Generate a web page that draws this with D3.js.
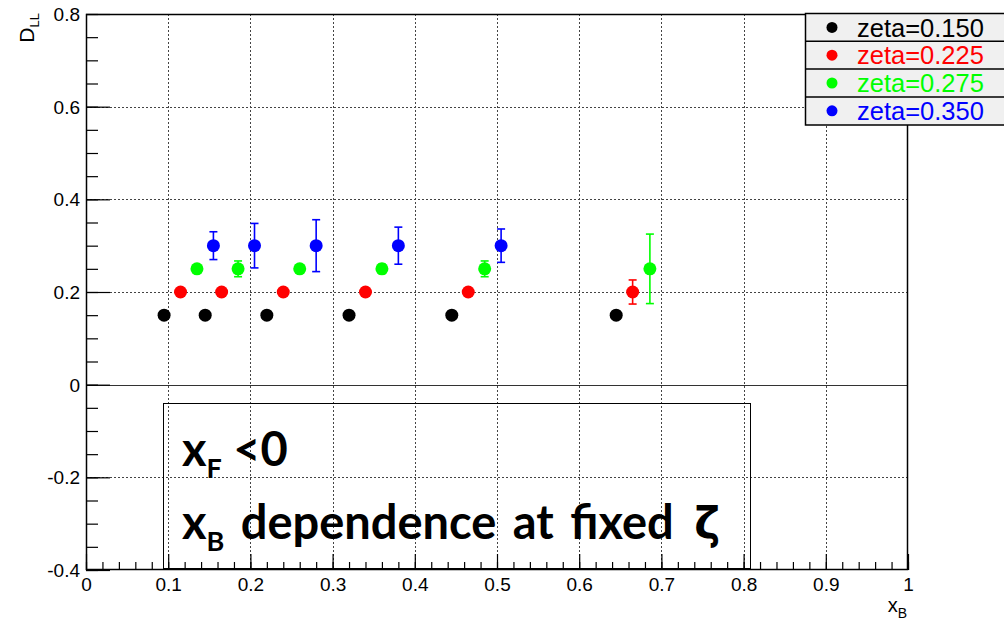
<!DOCTYPE html>
<html>
<head>
<meta charset="utf-8">
<script src="https://cdn.jsdelivr.net/npm/d3@7"></script>
<style>
body{margin:0;background:#fff;}
svg{display:block;font-family:"Liberation Sans",Arial,sans-serif;}
</style>
</head>
<body>
<svg id="c" width="1004" height="620"></svg>
<script>
// ---- data ----
const seriesNames = ["zeta=0.150","zeta=0.225","zeta=0.275","zeta=0.350"];
const seriesColors = ["#000000","#ff0000","#00ff00","#0000ff"];
const xB_150 = [0.095,0.145,0.220,0.320,0.445,0.645];
const d_150  = [0.15,0.15,0.15,0.15,0.15,0.15];
const e_150  = [0.005,0.005,0.005,0.005,0.005,0.008];
const xB_225 = [0.115,0.165,0.240,0.340,0.465,0.665];
const d_225  = [0.20,0.20,0.20,0.20,0.20,0.20];
const e_225  = [0.006,0.006,0.006,0.008,0.008,0.026];
const xB_275 = [0.135,0.185,0.260,0.360,0.485,0.686];
const d_275  = [0.25,0.25,0.25,0.25,0.25,0.25];
const e_275  = [0.008,0.017,0.008,0.010,0.017,0.075];
const xB_350 = [0.155,0.205,0.280,0.380,0.505];
const d_350  = [0.30,0.30,0.30,0.30,0.30];
const e_350  = [0.030,0.048,0.056,0.040,0.036];
const xTickValues = [0,0.1,0.2,0.3,0.4,0.5,0.6,0.7,0.8,0.9,1];
const xTickLabels = ["0","0.1","0.2","0.3","0.4","0.5","0.6","0.7","0.8","0.9","1"];
const yTickValues = [-0.4,-0.2,0,0.2,0.4,0.6,0.8];
const yTickLabels = ["-0.4","-0.2","0","0.2","0.4","0.6","0.8"];

const series = [
  {x:xB_150,y:d_150,e:e_150},
  {x:xB_225,y:d_225,e:e_225},
  {x:xB_275,y:d_275,e:e_275},
  {x:xB_350,y:d_350,e:e_350}
].map((s,i)=>({name:seriesNames[i],color:seriesColors[i],pts:s.x.map((v,j)=>({x:v,y:s.y[j],e:s.e[j]}))}));

// ---- layout ----
const L=86,R=908,T=14,B=570;
const svg=d3.select("#c");
const x=d3.scaleLinear().domain([0,1]).range([L,R]);
const y=d3.scaleLinear().domain([-0.4,0.8]).range([B,T]);

// grid
const grid=svg.append("g").attr("stroke","#444").attr("stroke-width",1).attr("stroke-dasharray","2,2");
grid.selectAll(".gx").data(xTickValues.filter(v=>v>0&&v<1)).join("line")
  .attr("x1",d=>Math.round(x(d))+0.5).attr("x2",d=>Math.round(x(d))+0.5).attr("y1",T).attr("y2",B);
grid.selectAll(".gy").data(yTickValues.filter(v=>v>-0.4&&v<0.8&&v!==0)).join("line")
  .attr("y1",d=>Math.round(y(d))+0.5).attr("y2",d=>Math.round(y(d))+0.5).attr("x1",L).attr("x2",R);

// zero line
svg.append("line").attr("x1",L).attr("x2",R).attr("y1",Math.round(y(0))+0.5).attr("y2",Math.round(y(0))+0.5)
  .attr("stroke","#333").attr("stroke-width",1.2);

// axes
const fmtX=d=>xTickLabels[xTickValues.findIndex(v=>Math.abs(v-d)<1e-9)];
const fmtY=d=>yTickLabels[yTickValues.findIndex(v=>Math.abs(v-d)<1e-9)];
const xAxis=svg.append("g").attr("transform",`translate(0,${B})`)
  .call(d3.axisBottom(x).tickValues(xTickValues).tickFormat(fmtX).tickSize(-16).tickPadding(8));
const xMinor=svg.append("g").attr("transform",`translate(0,${B})`)
  .call(d3.axisBottom(x).tickValues(d3.range(0,51).map(i=>i/50)).tickFormat("").tickSize(-8));
const yAxis=svg.append("g").attr("transform",`translate(${L},0)`)
  .call(d3.axisLeft(y).tickValues(yTickValues).tickFormat(fmtY).tickSize(-24).tickPadding(6));
const yMinor=svg.append("g").attr("transform",`translate(${L},0)`)
  .call(d3.axisLeft(y).tickValues(d3.range(0,25).map(i=>-0.4+i*0.05)).tickFormat("").tickSize(-12));
[xAxis,xMinor,yAxis,yMinor].forEach(g=>{
  g.select(".domain").remove();
  g.selectAll("line").attr("stroke","#000").attr("stroke-width",1.2);
  g.selectAll("text").attr("font-size",19).attr("fill","#000").attr("font-family","Liberation Sans, Arial, sans-serif");
});
yAxis.selectAll("text").attr("dy","0.35em");
xAxis.selectAll("text").attr("dy","0.71em");

// frame
svg.append("rect").attr("x",L+0.5).attr("y",T+0.5).attr("width",R-L-1).attr("height",B-T-1)
  .attr("fill","none").attr("stroke","#000").attr("stroke-width",1.5);

// axis titles
const yt=svg.append("text").attr("transform",`translate(34,13) rotate(-90)`).attr("text-anchor","end")
  .attr("font-size",21).attr("fill","#000");
yt.append("tspan").text("D");
yt.append("tspan").attr("font-size",13).attr("dy",5).text("LL");
const xt=svg.append("text").attr("x",907).attr("y",612).attr("text-anchor","end").attr("font-size",20).attr("fill","#000");
xt.append("tspan").text("x");
xt.append("tspan").attr("font-size",14).attr("dy",6).text("B");

// text box
svg.append("rect").attr("x",163.5).attr("y",403.5).attr("width",587).attr("height",165)
  .attr("fill","none").attr("stroke","#000").attr("stroke-width",1);
const tb=svg.append("g").attr("font-family","Lato, 'Open Sans', sans-serif").attr("font-weight","bold").attr("fill","#000");
const t1=tb.append("text").attr("x",182).attr("y",466).attr("font-size",47);
t1.append("tspan").text("x");
t1.append("tspan").attr("font-size",27).attr("dy",12).text("F");
t1.append("tspan").attr("dy",-12).text(" <0");
const t2=tb.append("text").attr("x",182).attr("y",539).attr("font-size",47).attr("word-spacing",5);
t2.append("tspan").text("x");
t2.append("tspan").attr("font-size",27).attr("dy",12).text("B");
t2.append("tspan").attr("dy",-12).text(" dependence at fixed ");
t2.append("tspan").attr("dx",4).attr("font-family","'DejaVu Sans', sans-serif").attr("font-size",44).text("ζ");

// data
const gS=svg.selectAll(".s").data(series).join("g");
gS.each(function(s){
  const g=d3.select(this);
  const eb=g.selectAll(".eb").data(s.pts).join("g").attr("stroke",s.color).attr("stroke-width",1.6);
  eb.append("line").attr("x1",d=>x(d.x)).attr("x2",d=>x(d.x)).attr("y1",d=>y(d.y-d.e)).attr("y2",d=>y(d.y+d.e));
  eb.append("line").attr("x1",d=>x(d.x)-4).attr("x2",d=>x(d.x)+4).attr("y1",d=>y(d.y-d.e)).attr("y2",d=>y(d.y-d.e));
  eb.append("line").attr("x1",d=>x(d.x)-4).attr("x2",d=>x(d.x)+4).attr("y1",d=>y(d.y+d.e)).attr("y2",d=>y(d.y+d.e));
  g.selectAll("circle").data(s.pts).join("circle").attr("cx",d=>x(d.x)).attr("cy",d=>y(d.y)).attr("r",6.5).attr("fill",s.color);
});

// legend
const lg=svg.append("g");
lg.append("rect").attr("x",805.5).attr("y",13.5).attr("width",220).attr("height",111.5)
  .attr("fill","#f0f0f0").attr("stroke","#000").attr("stroke-width",1.5);
const rowH=27.8;
series.forEach((s,i)=>{
  const cy=13.5+rowH*(i+0.5);
  if(i>0) lg.append("line").attr("x1",805).attr("x2",1004).attr("y1",13.5+rowH*i).attr("y2",13.5+rowH*i).attr("stroke","#000").attr("stroke-width",1.5);
  lg.append("circle").attr("cx",832).attr("cy",cy).attr("r",5.5).attr("fill",s.color);
  lg.append("text").attr("x",857).attr("y",cy).attr("dy","0.36em").attr("font-size",25.5).attr("fill",s.color).text(s.name);
});
</script>
</body>
</html>
